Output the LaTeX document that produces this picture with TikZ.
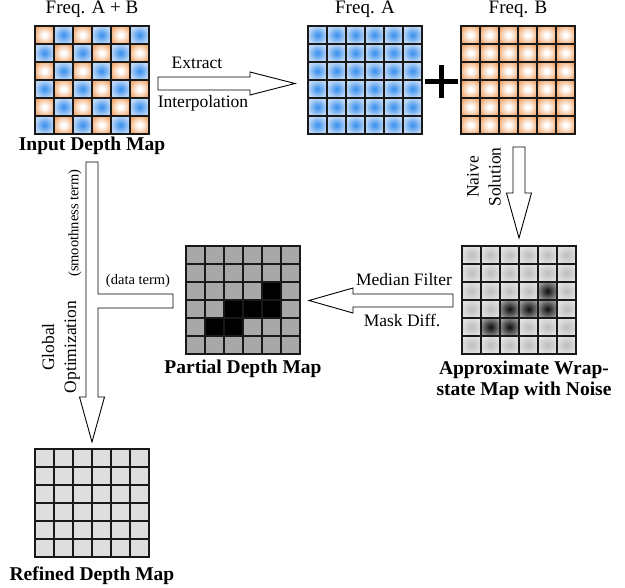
\documentclass[tikz,border=0pt]{standalone}
\usepackage{fontspec}
\setmainfont{Liberation Serif}
\usetikzlibrary{positioning}

\definecolor{blueA}{HTML}{4496EF}
\definecolor{blueB}{HTML}{BDD7F5}
\definecolor{orangeB}{HTML}{F0A468}
\pgfdeclareradialshading{blueglow}{\pgfpoint{0bp}{0bp}}{color(0bp)=(blueA); color(3bp)=(blueA); color(25bp)=(blueB); color(50bp)=(blueB)}
\pgfdeclareradialshading{orangeglow}{\pgfpoint{0bp}{0bp}}{color(0bp)=(white); color(5bp)=(white); color(30bp)=(orangeB); color(50bp)=(orangeB)}
\pgfdeclareradialshading{grayglow}{\pgfpoint{0bp}{0bp}}{color(0bp)=(black!26); color(30bp)=(black!10); color(50bp)=(black!10)}
\pgfdeclareradialshading{darkglow}{\pgfpoint{0bp}{0bp}}{color(0bp)=(black!95); color(40bp)=(black!18); color(50bp)=(black!15)}

% 6x6 grid at (#1,#2): cells with even r+c get style #3, odd ones #4
\newcommand\cellgrid[4]{%
  \foreach \r in {0,...,5}
    \foreach \c in {0,...,5}{
      \pgfmathtruncatemacro\k{mod(\r+\c,2)}
      \ifnum\k=0 \path[#3] (#1+\c*19,#2+\r*18) rectangle ++(19,18);
      \else \path[#4] (#1+\c*19,#2+\r*18) rectangle ++(19,18);
      \fi}}
% grid lines over the cells
\newcommand\gridlines[2]{%
  \foreach \i in {0,...,6}{
    \draw[gridline] (#1+\i*19,#2) -- ++(0,108);
    \draw[gridline] (#1,#2+\i*18) -- ++(114,0);}}

\begin{document}
\begin{tikzpicture}[x=1pt,y=-1pt]
	\tikzset{
		gridline/.style={draw=black!90,line width=2pt,line cap=rect},
		gridbox/.style={minimum width=114pt,minimum height=108pt,inner sep=0pt},
		bcell/.style={shading=blueglow},
		ocell/.style={shading=orangeglow},
		gcell/.style={shading=grayglow},
		dcell/.style={shading=darkglow},
		pcell/.style={fill=black!34},
		kcell/.style={fill=black},
		rcell/.style={fill=black!13},
		hollow/.style={draw=black,fill=white,line width=0.9pt,line join=miter},
		title/.style={font=\fontsize{19.5}{21}\selectfont\bfseries,inner sep=0pt},
		freq/.style={font=\fontsize{19}{21}\selectfont,inner sep=0pt},
		lbl/.style={font=\fontsize{17.5}{22}\selectfont,inner sep=0pt},
		note/.style={font=\fontsize{14.5}{16}\selectfont,inner sep=0pt}
	}
	\useasboundingbox (0,0) rectangle (625,588);

	% the six maps
	\cellgrid{35}{26}{ocell}{bcell}
	\cellgrid{308}{26}{bcell}{bcell}
	\cellgrid{461}{26}{ocell}{ocell}
	\cellgrid{462}{246}{gcell}{gcell}
	\cellgrid{186}{246}{pcell}{pcell}
	\cellgrid{35}{449}{rcell}{rcell}
	\foreach \c/\r in {4/2,2/3,3/3,4/3,1/4,2/4}{
		\path[dcell] (462+\c*19,246+\r*18) rectangle ++(19,18);
		\path[kcell] (186+\c*19,246+\r*18) rectangle ++(19,18);
	}
	\foreach \x/\y in {35/26,308/26,461/26,462/246,186/246,35/449}
		\gridlines{\x}{\y}
	\node[gridbox] (input) at (92,80) {};
	\node[gridbox] (freqA) at (365,80) {};
	\node[gridbox] (freqB) at (518,80) {};
	\node[gridbox] (approx) at (519,300) {};
	\node[gridbox] (partial) at (243,300) {};
	\node[gridbox] (refined) at (92,503) {};

	% titles
	\node[freq,above=8pt of input] (tinput) {Freq. A + B};
	\node[freq,above=8pt of freqA] (tfreqA) {Freq. A};
	\node[freq,above=8pt of freqB] (tfreqB) {Freq. B};
	\node[title,below=3pt of input] (ninput) {Input Depth Map};
	\node[title,below=6pt of partial] (npartial) {Partial Depth Map};
	\node[title,below=7pt of approx,xshift=5pt,align=center] (napprox) {Approximate Wrap-\\state Map with Noise};
	\node[title,below=9pt of refined] (nrefined) {Refined Depth Map};

	% plus sign
	\draw[line width=5pt] (425,82) -- (458,82) (441.5,65.5) -- (441.5,98.5);

	% block arrows
	\draw[hollow] (158,77) -- (250,77) -- (250,72) -- (295,83.5) -- (250,95) -- (250,90) -- (158,90) -- cycle;
	\draw[hollow] (513,147) -- (525,147) -- (525,193) -- (531.5,193) -- (519,238) -- (506.5,193) -- (513,193) -- cycle;
	\draw[hollow] (453,294) -- (353,294) -- (353,288) -- (309,300.5) -- (353,313) -- (353,307) -- (453,307) -- cycle;
	\draw[hollow] (86,162) -- (98,162) -- (98,294) -- (173,294) -- (173,308) -- (98,308) -- (98,397)
		-- (104.5,397) -- (92,442) -- (79.5,397) -- (86,397) -- cycle;

	% arrow labels
	\node[lbl] (extract) at (197,63) {Extract};
	\node[lbl] (interp) at (203,103) {Interpolation};
	\node[lbl,rotate=90,align=center] (naive) at (484,177) {Naive\\Solution};
	\node[lbl] (median) at (404,280) {Median Filter};
	\node[lbl] (mask) at (402,320) {Mask Diff.};
	\node[note,rotate=90] (smooth) at (75,223) {(smoothness term)};
	\node[note] (data) at (138,281) {(data term)};
	\node[lbl,rotate=90,align=center] (globopt) at (61,347) {Global\\Optimization};
\end{tikzpicture}
\end{document}
